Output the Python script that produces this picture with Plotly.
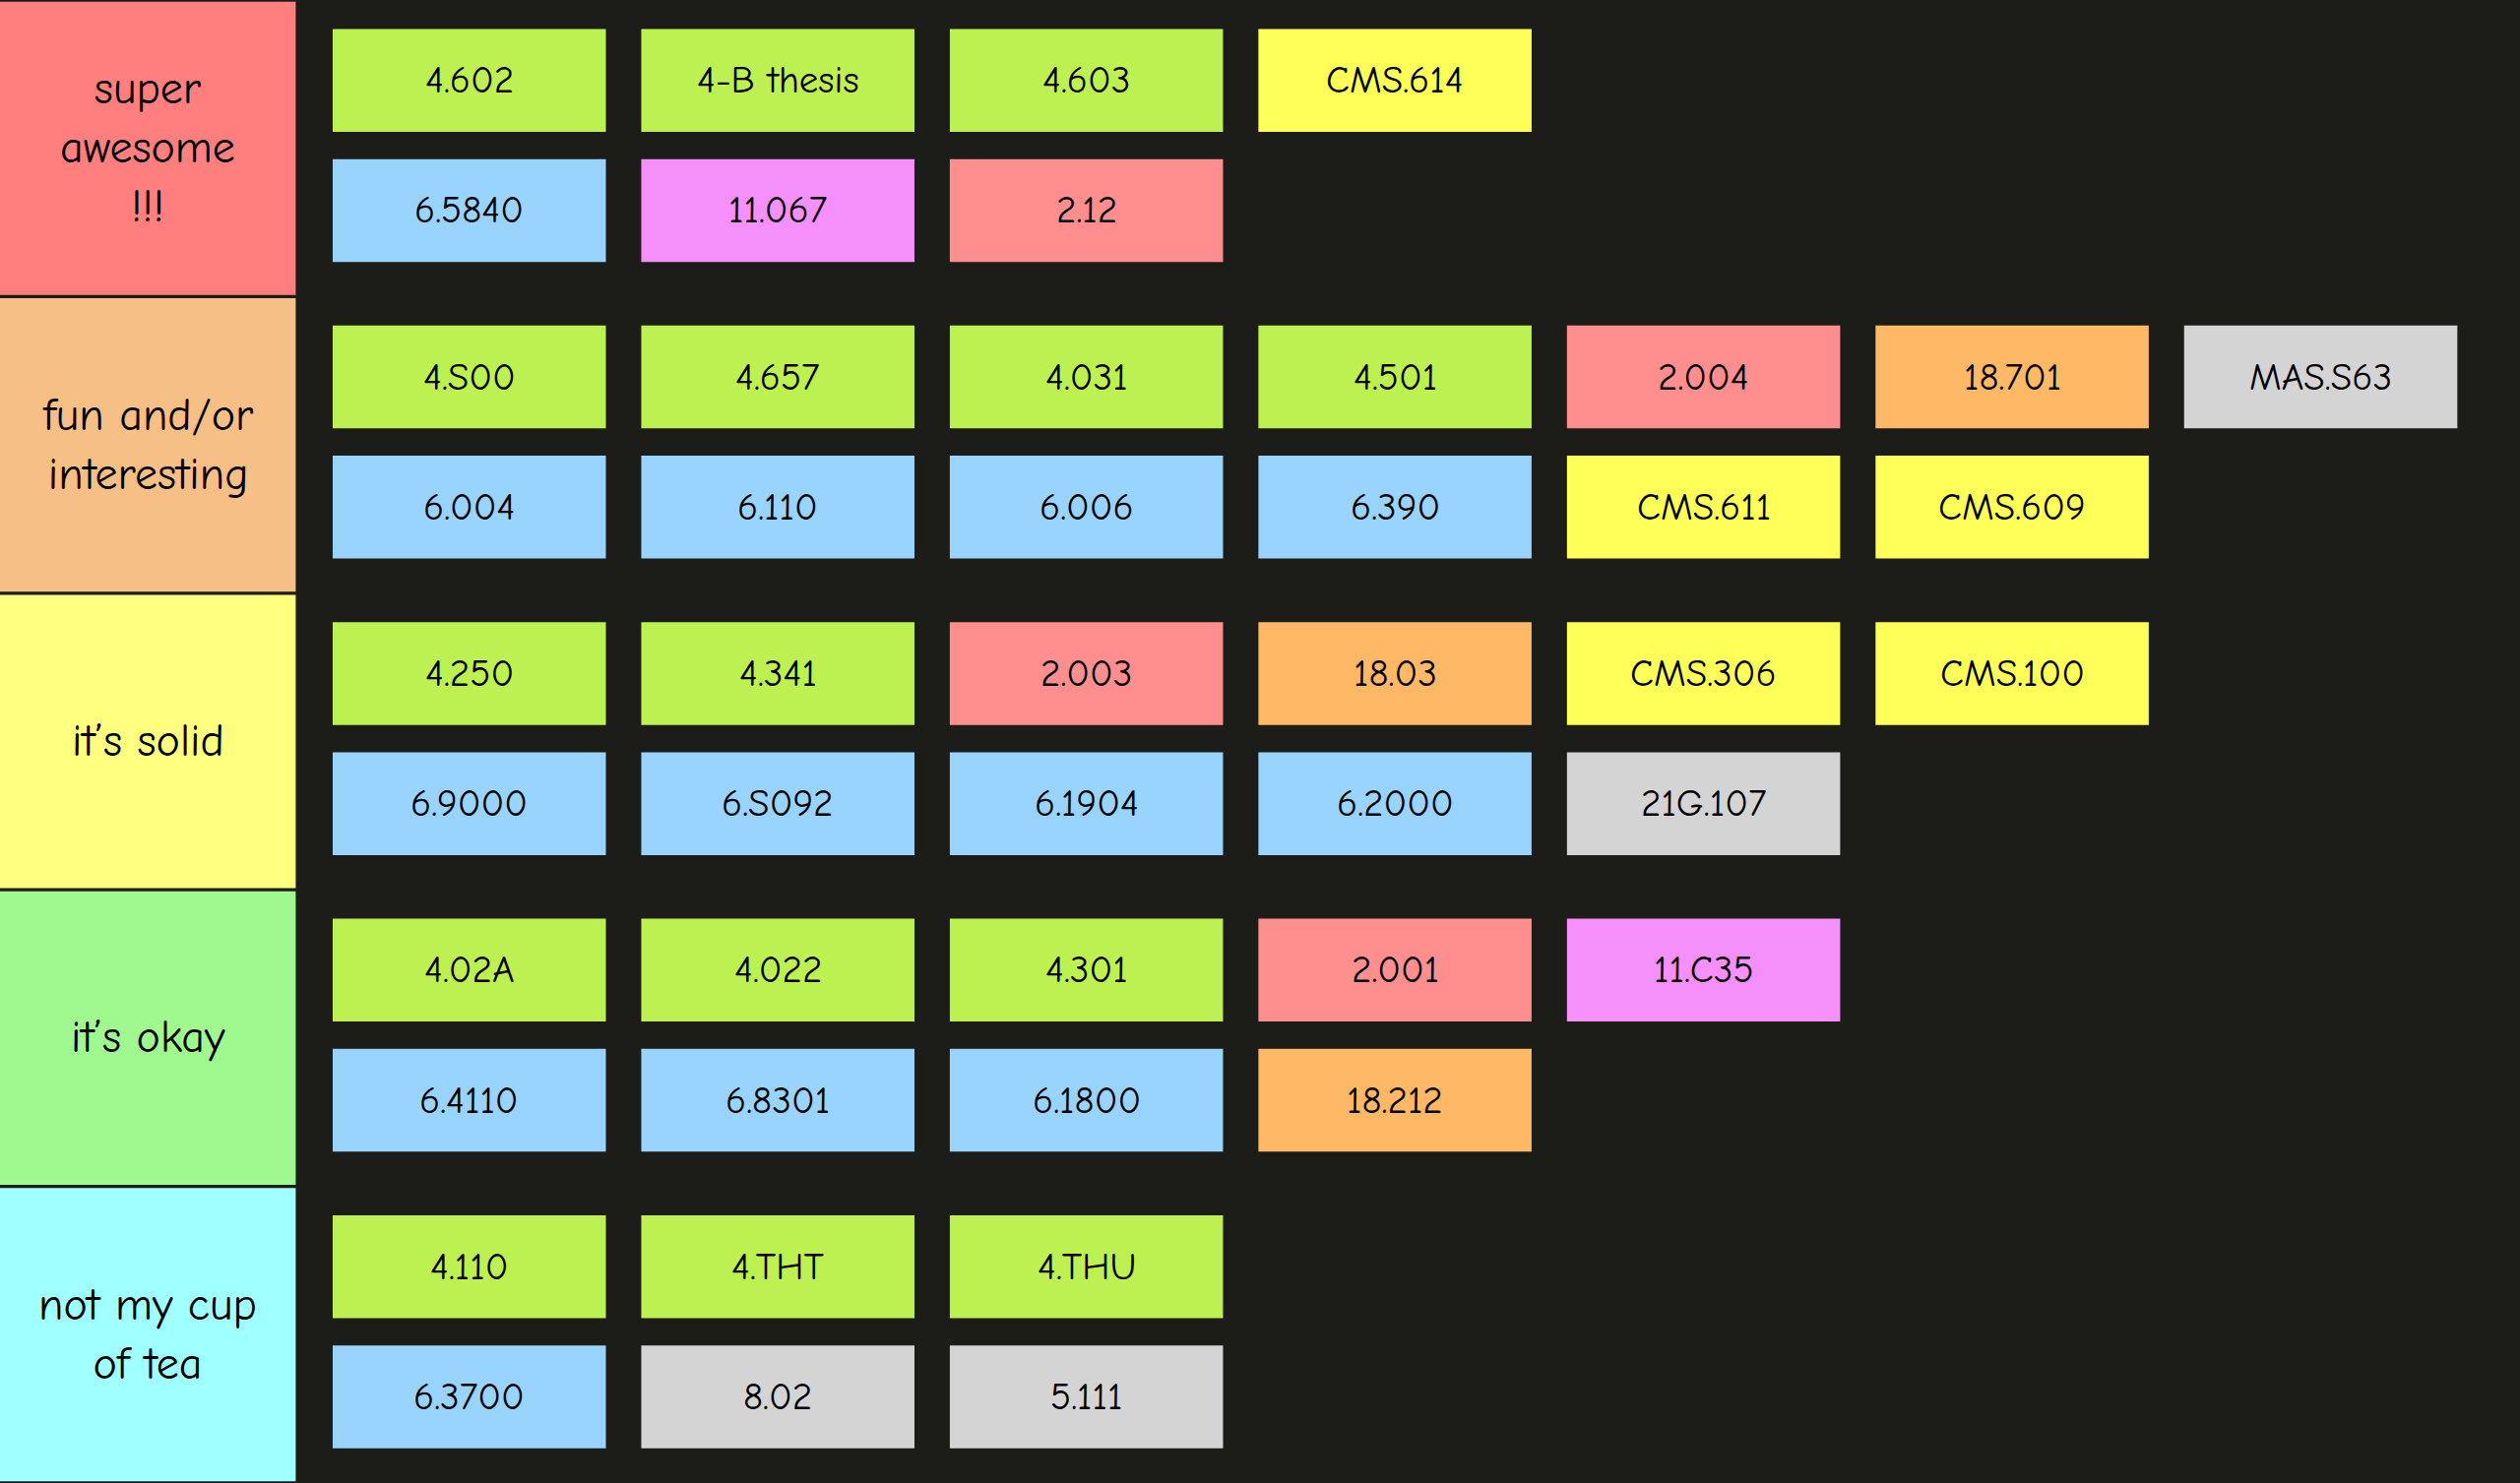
import plotly.graph_objects as go

tiers = ["super<br>awesome<br>!!!", "fun and/or<br>interesting", "it’s solid", "it’s okay", "not my cup<br>of tea"]
tier_colors = ["#ff7f7f", "#f5bf85", "#ffff80", "#9ff98f", "#a0ffff"]

# each tier: two rows of (course, kind)
top_rows = [
    [("4.602", "g"), ("4-B thesis", "g"), ("4.603", "g"), ("CMS.614", "y")],
    [("4.S00", "g"), ("4.657", "g"), ("4.031", "g"), ("4.501", "g"), ("2.004", "r"), ("18.701", "o"), ("MAS.S63", "x")],
    [("4.250", "g"), ("4.341", "g"), ("2.003", "r"), ("18.03", "o"), ("CMS.306", "y"), ("CMS.100", "y")],
    [("4.02A", "g"), ("4.022", "g"), ("4.301", "g"), ("2.001", "r"), ("11.C35", "p")],
    [("4.110", "g"), ("4.THT", "g"), ("4.THU", "g")],
]
bottom_rows = [
    [("6.5840", "b"), ("11.067", "p"), ("2.12", "r")],
    [("6.004", "b"), ("6.110", "b"), ("6.006", "b"), ("6.390", "b"), ("CMS.611", "y"), ("CMS.609", "y")],
    [("6.9000", "b"), ("6.S092", "b"), ("6.1904", "b"), ("6.2000", "b"), ("21G.107", "x")],
    [("6.4110", "b"), ("6.8301", "b"), ("6.1800", "b"), ("18.212", "o")],
    [("6.3700", "b"), ("8.02", "x"), ("5.111", "x")],
]
kind_colors = {"g": "#bdf152", "b": "#99d3ff", "p": "#f590fa", "r": "#ff8f8f",
               "y": "#ffff5a", "o": "#ffb866", "x": "#d4d4d4"}

W, H = 1568, 923
row_h = H / 5
font = "Comic Sans MS, Comic Neue, DejaVu Sans, sans-serif"

fig = go.Figure()
shapes, annos = [], []
for i, t in enumerate(tiers):
    y0 = i * row_h
    shapes.append(dict(type="rect", x0=0, x1=184, y0=y0 + 1, y1=y0 + row_h - 1,
                       fillcolor=tier_colors[i], line_width=0, layer="below"))
    annos.append(dict(x=92, y=y0 + row_h / 2, text=t, showarrow=False,
                      font=dict(family=font, size=46, color="#000")))
    for r, items in enumerate([top_rows[i], bottom_rows[i]]):
        ty = y0 + 18 + r * 81
        for j, (lab, k) in enumerate(items):
            tx = 207 + j * 192
            shapes.append(dict(type="rect", x0=tx, x1=tx + 170, y0=ty, y1=ty + 64,
                               fillcolor=kind_colors[k], line_width=0, layer="below"))
            annos.append(dict(x=tx + 85, y=ty + 32, text=lab, showarrow=False,
                              font=dict(family=font, size=39, color="#000")))

fig.add_trace(go.Scatter(x=[0, W], y=[0, H], mode="markers", marker_opacity=0, hoverinfo="skip"))
fig.update_layout(width=2560, height=1507, margin=dict(l=0, r=0, t=0, b=0),
                  paper_bgcolor="#1c1c19", plot_bgcolor="#1c1c19", showlegend=False,
                  shapes=shapes, annotations=annos,
                  xaxis=dict(range=[0, W], visible=False, fixedrange=True),
                  yaxis=dict(range=[H, 0], visible=False, fixedrange=True))
fig.write_html("out.html", config={"displayModeBar": False},
               post_script="document.body.style.margin='0';document.body.style.background='#1c1c19';")
